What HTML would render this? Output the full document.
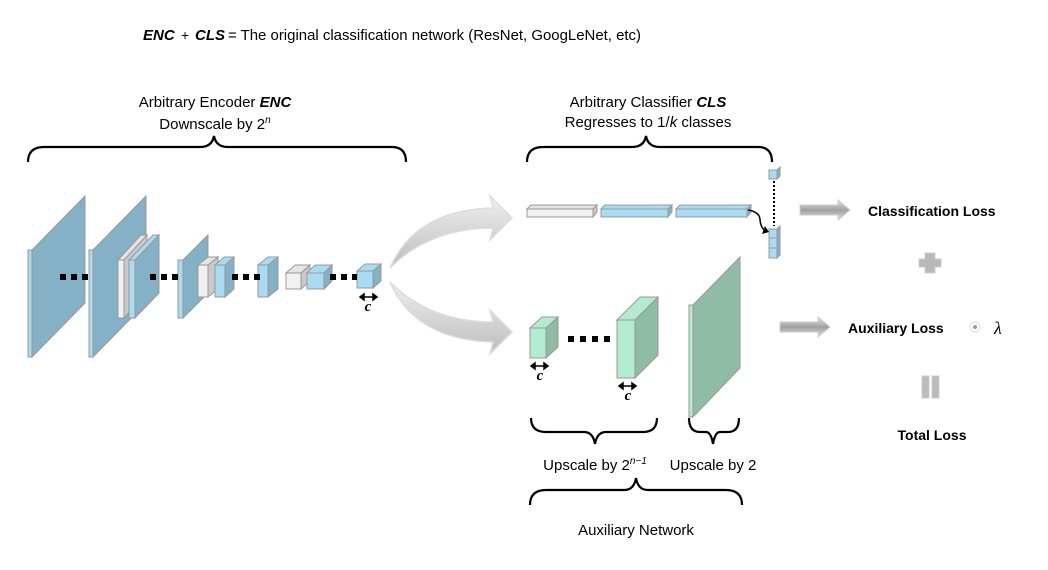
<!DOCTYPE html>
<html><head><meta charset="utf-8"><style>
html,body{margin:0;padding:0;background:#fff;}
svg{display:block;font-family:"Liberation Sans",sans-serif;}
</style></head><body>
<svg width="1048" height="570" viewBox="0 0 1048 570" xmlns="http://www.w3.org/2000/svg">
<defs>
<linearGradient id="ga" x1="0" y1="0" x2="0" y2="1"><stop offset="0" stop-color="#efefef"/><stop offset="1" stop-color="#bdbdbd"/></linearGradient>
<linearGradient id="gb" x1="0" y1="0" x2="0" y2="1"><stop offset="0" stop-color="#e6e6e6"/><stop offset="0.5" stop-color="#a0a0a0"/><stop offset="1" stop-color="#e0e0e0"/></linearGradient>
</defs>
<text x="143" y="40" font-size="15" font-style="italic" font-weight="bold" fill="#000">ENC</text>
<text x="181" y="40" font-size="14" fill="#000">+</text>
<text x="195" y="40" font-size="15" font-style="italic" font-weight="bold">CLS</text>
<text x="228" y="40" font-size="15" textLength="413" lengthAdjust="spacingAndGlyphs">= The original classification network (ResNet, GoogLeNet, etc)</text>

<text x="215" y="107" font-size="15" text-anchor="middle">Arbitrary Encoder <tspan font-style="italic" font-weight="bold">ENC</tspan></text>
<text x="215" y="129" font-size="15" text-anchor="middle">Downscale by 2<tspan font-style="italic" font-size="10" dy="-6">n</tspan></text>
<text x="648" y="107" font-size="15" text-anchor="middle">Arbitrary Classifier <tspan font-style="italic" font-weight="bold">CLS</tspan></text>
<text x="648" y="127" font-size="15" text-anchor="middle">Regresses to 1/<tspan font-style="italic">k</tspan> classes</text>

<g fill="none" stroke="#000" stroke-width="2.2">
<path d="M28,162 Q28,147 44,147 L200,147 Q212,147 214,136 Q216,147 228,147 L392,147 Q406,147 406,162"/>
<path d="M527,162 Q527,147 543,147 L632,147 Q644,147 646,136 Q648,147 660,147 L758,147 Q772,147 772,162"/>
<path d="M531,418 Q531,432 546,432 L584,432 Q593,432 595,444 Q597,432 606,432 L643,432 Q657,432 657,418"/>
<path d="M689,418 Q689,432 700,432 L706,432 Q711,432 713,444 Q715,432 720,432 L728,432 Q739,432 739,418"/>
<path d="M530,505 Q530,490 546,490 L624,490 Q634,490 636,478 Q638,490 648,490 L726,490 Q742,490 742,505"/>
</g>
<text x="595" y="470" font-size="15" text-anchor="middle">Upscale by 2<tspan font-style="italic" font-size="10" dy="-6">n−1</tspan></text>
<text x="713" y="470" font-size="15" text-anchor="middle">Upscale by 2</text>
<text x="636" y="535" font-size="15" text-anchor="middle">Auxiliary Network</text>

<g stroke="#999" stroke-width="1">
<polygon points="32,250 85,196 85,303 32,357" fill="#84b1c6"/>
<rect x="28" y="250" width="4" height="107" fill="#a9dcf3"/>
<polygon points="93,250 146,196 146,303 93,357" fill="#84b1c6"/>
<rect x="89" y="250" width="4" height="107" fill="#a9dcf3"/>
<polygon points="124,260 147,235 147,293 124,318" fill="#c9c9c9"/>
<polygon points="118,260 141,235 147,235 124,260" fill="#e4e4e4"/>
<rect x="118" y="260" width="6" height="58" fill="#f1f1f1"/>
<polygon points="135,260 159,235 159,293 135,318" fill="#84b1c6"/>
<polygon points="129,260 153,235 159,235 135,260" fill="#a9dcf3"/>
<rect x="129" y="260" width="6" height="58" fill="#a9dcf3"/>
<polygon points="183,260 208,235 208,293 183,318" fill="#84b1c6"/>
<rect x="178" y="260" width="5" height="58" fill="#a9dcf3"/>
<polygon points="208,265 218,257 218,289 208,297" fill="#c9c9c9"/>
<polygon points="198,265 208,257 218,257 208,265" fill="#e4e4e4"/>
<rect x="198" y="265" width="10" height="32" fill="#f1f1f1"/>
<polygon points="225,265 234,257 234,289 225,297" fill="#84b1c6"/>
<polygon points="215,265 224,257 234,257 225,265" fill="#a9dcf3"/>
<rect x="215" y="265" width="10" height="32" fill="#a9dcf3"/>
<polygon points="268,265 278,257 278,289 268,297" fill="#84b1c6"/>
<polygon points="258,265 268,257 278,257 268,265" fill="#a9dcf3"/>
<rect x="258" y="265" width="10" height="32" fill="#a9dcf3"/>
<polygon points="301,273 310,265 310,281 301,289" fill="#c9c9c9"/>
<polygon points="286,273 295,265 310,265 301,273" fill="#e4e4e4"/>
<rect x="286" y="273" width="15" height="16" fill="#f1f1f1"/>
<polygon points="324,273 332,265 332,281 324,289" fill="#84b1c6"/>
<polygon points="307,273 315,265 332,265 324,273" fill="#a9dcf3"/>
<rect x="307" y="273" width="17" height="16" fill="#a9dcf3"/>
<polygon points="373,271 381,264 381,281 373,288" fill="#84b1c6"/>
<polygon points="357,271 365,264 381,264 373,271" fill="#a9dcf3"/>
<rect x="357" y="271" width="16" height="17" fill="#a9dcf3"/>
</g>
<g fill="#000">
<rect x="60" y="274" width="6" height="6"/><rect x="71" y="274" width="6" height="6"/><rect x="82" y="274" width="6" height="6"/>
<rect x="150" y="274" width="6" height="6"/><rect x="161" y="274" width="6" height="6"/><rect x="172" y="274" width="6" height="6"/>
<rect x="232" y="274" width="6" height="6"/><rect x="243" y="274" width="6" height="6"/><rect x="254" y="274" width="6" height="6"/>
<rect x="330" y="274" width="6" height="6"/><rect x="341" y="274" width="6" height="6"/><rect x="352" y="274" width="5" height="6"/>
<rect x="568" y="336" width="6" height="6"/><rect x="580" y="336" width="6" height="6"/><rect x="592" y="336" width="6" height="6"/><rect x="604" y="336" width="6" height="6"/>
</g>
<g stroke="#000" stroke-width="1.5" fill="#000">
<line x1="362" y1="297" x2="375" y2="297"/><polygon points="360,297 364,294 364,300"/><polygon points="377,297 373,294 373,300"/>
<line x1="533" y1="366" x2="546" y2="366"/><polygon points="531,366 535,363 535,369"/><polygon points="548,366 544,363 544,369"/>
<line x1="621" y1="386" x2="634" y2="386"/><polygon points="619,386 623,383 623,389"/><polygon points="636,386 632,383 632,389"/>
</g>
<g font-family="Liberation Serif,serif" font-style="italic" font-weight="bold" font-size="15" text-anchor="middle">
<text x="368" y="311">c</text><text x="540" y="380">c</text><text x="628" y="400">c</text>
</g>

<g fill="url(#ga)" stroke="#ddd" stroke-width="1.5">
<path d="M390,268 Q415,210 493,208 L490,196 L512,218 L490,240 L493,228 Q430,228 390,268 Z"/>
<path d="M390,282 Q430,322 493,322 L490,310 L512,332 L490,354 L493,342 Q415,340 390,282 Z"/>
</g>

<g stroke="#999" stroke-width="1">
<polygon points="527,209 531,205 597,205 593,209" fill="#e4e4e4"/><polygon points="593,209 597,205 597,212 593,217" fill="#c9c9c9"/><rect x="527" y="209" width="66" height="8" fill="#f1f1f1"/>
<polygon points="601,209 605,205 672,205 668,209" fill="#a9dcf3"/><polygon points="668,209 672,205 672,212 668,217" fill="#84b1c6"/><rect x="601" y="209" width="67" height="8" fill="#a9dcf3"/>
<polygon points="676,209 680,205 751,205 747,209" fill="#a9dcf3"/><polygon points="747,209 751,205 751,212 747,217" fill="#84b1c6"/><rect x="676" y="209" width="71" height="8" fill="#a9dcf3"/>
<rect x="769" y="170" width="8" height="9" fill="#a9dcf3"/><polygon points="777,170 780,167 780,176 777,179" fill="#84b1c6"/>
<rect x="769" y="229" width="8" height="9" fill="#a9dcf3"/><rect x="769" y="238" width="8" height="10" fill="#a9dcf3"/><rect x="769" y="248" width="8" height="10" fill="#a9dcf3"/>
<polygon points="777,229 780,226 780,255 777,258" fill="#84b1c6"/>
</g>
<line x1="774" y1="181" x2="774" y2="226" stroke="#000" stroke-width="2" stroke-dasharray="2,2"/>
<path d="M748,210 Q760,212 760,220 Q761,229 766,231" fill="none" stroke="#000" stroke-width="1.5"/>
<polygon points="769,232 762,234 765,226" fill="#000"/>

<g stroke="#999" stroke-width="1">
<polygon points="546,328 558,317 558,347 546,358" fill="#8fbca5"/>
<polygon points="530,328 542,317 558,317 546,328" fill="#b2ebd0"/>
<rect x="530" y="328" width="16" height="30" fill="#b2ebd0"/>
<polygon points="635,320 658,297 658,355 635,378" fill="#8fbca5"/>
<polygon points="617,320 640,297 658,297 635,320" fill="#b2ebd0"/>
<rect x="617" y="320" width="18" height="58" fill="#b2ebd0"/>
<polygon points="693,305 740,257 740,368 693,417" fill="#8fbca5"/>
<rect x="689" y="305" width="4" height="112" fill="#b2ebd0"/>
</g>

<g fill="url(#gb)" stroke="#ccc" stroke-width="1">
<path d="M800,205 L838,205 L838,200 L850,210 L838,220 L838,215 L800,215 Z"/>
<path d="M780,322 L818,322 L818,317 L830,327 L818,337 L818,332 L780,332 Z"/>
<path d="M925,253 L935,253 L935,259 L941,259 L941,267 L935,267 L935,273 L925,273 L925,267 L919,267 L919,259 L925,259 Z" fill="#b8b8b8"/>
<rect x="922" y="376" width="7" height="22" fill="#bbb"/><rect x="932" y="376" width="7" height="22" fill="#bbb"/>
</g>
<circle cx="975" cy="327" r="5" fill="#fff" stroke="#ddd"/><circle cx="975" cy="327" r="2" fill="#999"/>
<g font-weight="bold" font-size="14" fill="#000">
<text x="868" y="216">Classification Loss</text>
<text x="848" y="333">Auxiliary Loss</text>
<text x="932" y="440" text-anchor="middle">Total Loss</text>
</g>
<text x="994" y="334" font-family="Liberation Serif,serif" font-style="italic" font-size="18">λ</text>
</svg>
</body></html>
